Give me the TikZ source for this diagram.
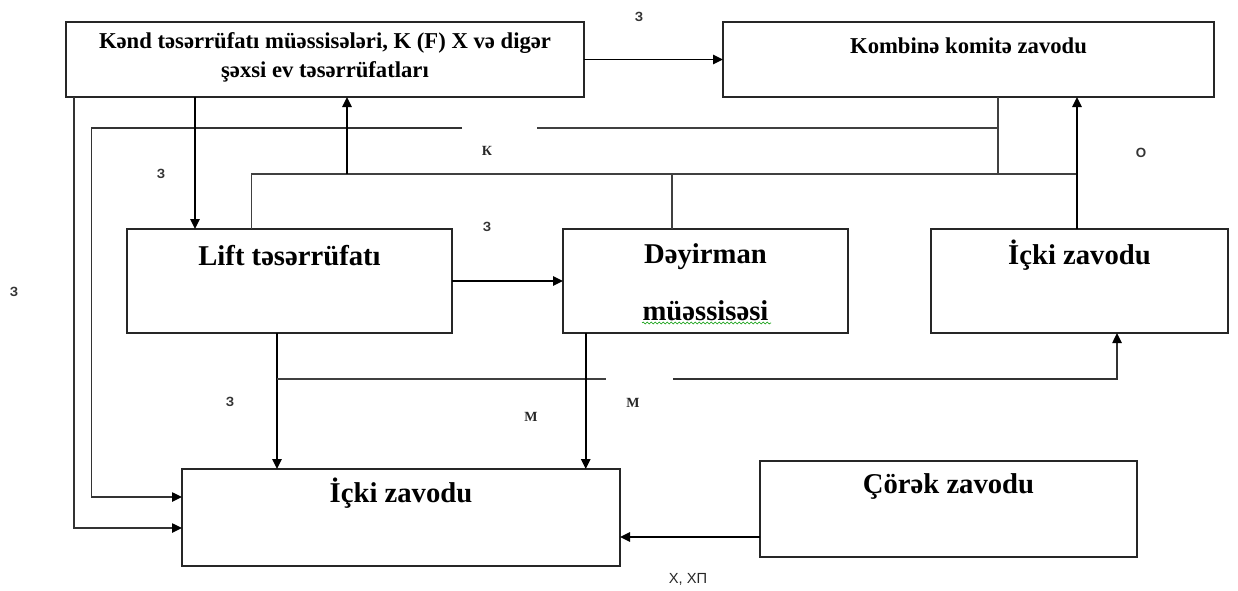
\documentclass[tikz,border=0pt]{standalone}
\usepackage{fontspec}
\setmainfont{Liberation Serif}
\newfontfamily\lsans{Liberation Sans}
\usetikzlibrary{arrows.meta,decorations.pathmorphing}
\begin{document}
\begin{tikzpicture}[x=0.75pt,y=-0.75pt,
  box/.style={draw=black!85,line width=1pt,inner sep=0pt,outer sep=0pt},
  bigtxt/.style={font=\fontsize{21.5}{24}\selectfont\bfseries,inner sep=0pt},
  toptxt/.style={font=\fontsize{17}{21.75}\selectfont\bfseries,inner sep=0pt,align=center},
  plain/.style={draw=black!75,line width=1pt},
  tip/.style={-{Triangle[length=7.5pt,width=7pt,fill=black,color=black]}},
  arr/.style={draw=black,line width=1.4pt,tip},
  mixed/.style={draw=black!80,line width=1.1pt,tip},
  lblz/.style={font=\lsans\bfseries\fontsize{10}{12}\selectfont,text=black!80,inner sep=0pt},
  lblk/.style={font=\bfseries\fontsize{10.5}{12}\selectfont,text=black!85,inner sep=0pt},
  lblx/.style={font=\lsans\fontsize{11}{13}\selectfont,text=black!85,inner sep=0pt}]
\path[use as bounding box] (0,0) rectangle (1238,590);

% boxes
\node[box,minimum width=388.5pt,minimum height=56.25pt] (A) at (325,59.5) {};
\node[box,minimum width=368.25pt,minimum height=56.25pt] (B) at (968.5,59.5) {};
\node[box,minimum width=243.75pt,minimum height=78pt] (L) at (289.5,281) {};
\node[box,minimum width=213.75pt,minimum height=78pt] (D) at (705.5,281) {};
\node[box,minimum width=222.75pt,minimum height=78pt] (R) at (1079.5,281) {};
\node[box,minimum width=328.5pt,minimum height=72.75pt] (I) at (401,517.5) {};
\node[box,minimum width=282.75pt,minimum height=72pt] (C) at (948.5,509) {};

% box texts
\node[toptxt] (tA) at (325,57.5) {Kənd təsərrüfatı müəssisələri, K (F) X və digər\\şəxsi ev təsərrüfatları};
\node[toptxt] (tB) at (968.5,46) {Kombinə komitə zavodu};
\node[bigtxt] (tL) at (289.5,256) {Lift təsərrüfatı};
\node[bigtxt] (tD1) at (705.5,257) {Dəyirman};
\node[bigtxt] (tD2) at (705.5,311) {müəssisəsi};
\node[bigtxt] (tR) at (1079.5,255) {İçki zavodu};
\node[bigtxt] (tI) at (401,493) {İçki zavodu};
\node[bigtxt] (tC) at (948.5,486) {Çörək zavodu};
\draw[green!60!black,line width=0.4pt,decorate,decoration={snake,amplitude=0.7pt,segment length=3pt}] (642,323) -- (771,323);

% helper coordinates
\coordinate (x1) at (74,0);
\coordinate (x2) at (91.5,0);
\coordinate (x3) at (195,0);
\coordinate (x4) at (251.5,0);
\coordinate (x5) at (347,0);
\coordinate (x6) at (672,0);
\coordinate (x7) at (998,0);
\coordinate (x8) at (1077,0);
\coordinate (x9) at (277,0);
\coordinate (x10) at (585.7,0);
\coordinate (x11) at (1117,0);
\coordinate (y1) at (0,128);
\coordinate (y2) at (0,174);
\coordinate (y3) at (0,379);
\coordinate (y4) at (0,497);
\coordinate (y5) at (0,528);
\coordinate (y8) at (0,537);
\coordinate (g1) at (462,128);
\coordinate (g2) at (537,128);
\coordinate (g3) at (606,379);
\coordinate (g4) at (673,379);

% connectors
\draw[arr] (A) -- (B);
\draw[mixed] (A.south -| x1) -- (x1 |- y5) -- (I.west |- y5);
\draw[plain] (B.south -| x7) -- (x7 |- y2);
\draw[plain] (x7 |- y1) -- (g2);
\draw[mixed] (g1) -- (x2 |- y1) -- (x2 |- y4) -- (I.west |- y4);
\draw[arr] (A.south -| x3) -- (L.north -| x3);
\draw[plain] (L.north -| x4) -- (x4 |- y2) -- (x8 |- y2);
\draw[plain] (D.north -| x6) -- (x6 |- y2);
\draw[arr] (x5 |- y2) -- (A.south -| x5);
\draw[arr] (R.north -| x8) -- (B.south -| x8);
\draw[arr] (L) -- (D);
\draw[arr] (L.south -| x9) -- (I.north -| x9);
\draw[plain] (x9 |- y3) -- (g3);
\draw[mixed] (g4) -- (x11 |- y3) -- (R.south -| x11);
\draw[arr] (D.south -| x10) -- (I.north -| x10);
\draw[arr] (C.west |- y8) -- (I.east |- y8);

% labels
\node[lblz] (l1) at (639,17) {З};
\node[lblz] (l2) at (161,174) {З};
\node[lblk] (l3) at (487,151) {К};
\node[lblz] (l4) at (1141,153) {О};
\node[lblz] (l5) at (487,227) {З};
\node[lblz] (l6) at (14,292) {З};
\node[lblz] (l7) at (230,402) {З};
\node[lblk] (l8) at (531,417) {М};
\node[lblk] (l9) at (633,403) {М};
\node[lblx] (l10) at (688,579) {Х, ХП};
\end{tikzpicture}
\end{document}
